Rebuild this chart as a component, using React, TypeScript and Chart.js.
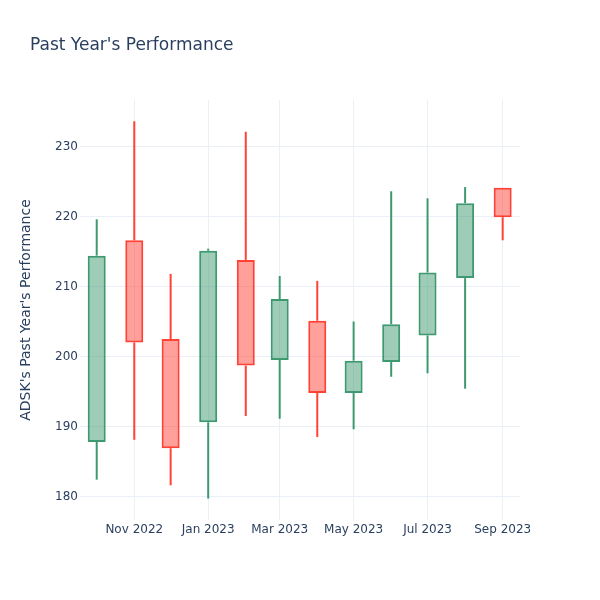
import React, { useEffect, useRef } from "react";
import { Chart, registerables } from "chart.js";

Chart.register(...registerables);

// ---- Data ----
const dates = [
  "2022-10-01", "2022-11-01", "2022-12-01", "2023-01-01", "2023-02-01", "2023-03-01",
  "2023-04-01", "2023-05-01", "2023-06-01", "2023-07-01", "2023-08-01", "2023-09-01",
];
const openValues = [187.8, 216.6, 202.5, 190.6, 213.8, 199.5, 205.1, 194.8, 199.2, 203.0, 211.2, 224.1];
const highValues = [219.6, 233.6, 211.8, 215.4, 232.1, 211.5, 210.8, 205.0, 223.6, 222.6, 224.2, 224.1];
const lowValues = [182.4, 188.1, 181.6, 179.7, 191.5, 191.1, 188.5, 189.6, 197.1, 197.6, 195.4, 216.6];
const closeValues = [214.4, 202.0, 186.9, 215.1, 198.7, 208.2, 194.8, 199.4, 204.6, 212.0, 221.9, 219.9];

const xTickDates = ["2022-11-01", "2023-01-01", "2023-03-01", "2023-05-01", "2023-07-01", "2023-09-01"];
const xTickLabels = ["Nov 2022", "Jan 2023", "Mar 2023", "May 2023", "Jul 2023", "Sep 2023"];
const yTickValues = [180, 190, 200, 210, 220, 230];

const xRange = ["2022-09-17T05:00:00Z", "2023-09-15T07:00:00Z"];
const yRange = [176.64, 236.64];

const titleText = "Past Year's Performance";
const yTitleText = "ADSK's Past Year's Performance";

// ---- Styles ----
const UP_LINE = "#3D9970";
const UP_FILL = "rgba(61,153,112,0.5)";
const DOWN_LINE = "#FF4136";
const DOWN_FILL = "rgba(255,65,54,0.5)";
const TEXT = "#2a3f5f";
const GRID = "#EBF0F8";
const FONT = "'DejaVu Sans', Verdana, sans-serif";

export default function App() {
  const canvasRef = useRef<HTMLCanvasElement | null>(null);

  useEffect(() => {
    if (!canvasRef.current) return;
    const xs = dates.map((d) => Date.parse(d + "T00:00:00Z"));
    const up = openValues.map((o, i) => closeValues[i] >= o);
    const lineColors = up.map((u) => (u ? UP_LINE : DOWN_LINE));
    const fillColors = up.map((u) => (u ? UP_FILL : DOWN_FILL));

    const body = xs.map((x, i) => ({ x, y: [openValues[i], closeValues[i]] }));
    const upperWick = xs.map((x, i) => ({
      x,
      y: [Math.max(openValues[i], closeValues[i]), highValues[i]],
    }));
    const lowerWick = xs.map((x, i) => ({
      x,
      y: [lowValues[i], Math.min(openValues[i], closeValues[i])],
    }));

    const tickMs = xTickDates.map((d) => Date.parse(d + "T00:00:00Z"));

    const chart = new Chart(canvasRef.current, {
      type: "bar",
      data: {
        datasets: [
          {
            data: body as any,
            backgroundColor: fillColors,
            borderColor: lineColors,
            borderWidth: 2,
            borderSkipped: false,
            barThickness: 18,
            grouped: false,
            inflateAmount: 0,
          } as any,
          {
            data: upperWick as any,
            backgroundColor: lineColors,
            borderWidth: 0,
            barThickness: 2,
            grouped: false,
            inflateAmount: 0,
          } as any,
          {
            data: lowerWick as any,
            backgroundColor: lineColors,
            borderWidth: 0,
            barThickness: 2,
            grouped: false,
            inflateAmount: 0,
          } as any,
        ],
      },
      options: {
        animation: false,
        responsive: false,
        devicePixelRatio: 1,
        layout: { padding: { top: 100, right: 80, left: 0, bottom: 0 } },
        plugins: {
          legend: { display: false },
          tooltip: { enabled: false },
          title: { display: false },
        },
        scales: {
          x: {
            type: "linear",
            offset: false,
            min: Date.parse(xRange[0]),
            max: Date.parse(xRange[1]),
            grid: { color: GRID, lineWidth: 1, drawTicks: false, offset: false },
            border: { display: false },
            afterBuildTicks: (scale: any) => {
              scale.ticks = tickMs.map((v) => ({ value: v }));
            },
            afterFit: (scale: any) => {
              scale.height = 80;
            },
            ticks: {
              padding: 3,
              maxRotation: 0,
              autoSkip: false,
              color: TEXT,
              font: { family: FONT, size: 12 },
              callback: (_v: any, i: number) => xTickLabels[i],
            },
          },
          y: {
            type: "linear",
            beginAtZero: false,
            min: yRange[0],
            max: yRange[1],
            grid: { color: GRID, lineWidth: 1, drawTicks: false },
            border: { display: false },
            afterBuildTicks: (scale: any) => {
              scale.ticks = yTickValues.map((v) => ({ value: v }));
            },
            afterFit: (scale: any) => {
              scale.width = 80;
            },
            title: {
              display: true,
              text: yTitleText,
              color: TEXT,
              font: { family: FONT, size: 14 },
              padding: { top: 18, bottom: 0 },
            },
            ticks: {
              padding: 2,
              color: TEXT,
              font: { family: FONT, size: 12 },
              callback: (v: any) => String(v),
            },
          },
        },
      } as any,
    });
    return () => chart.destroy();
  }, []);

  return (
    <div
      style={{
        position: "fixed",
        left: 0,
        top: 0,
        width: 600,
        height: 600,
        background: "#ffffff",
      }}
    >
      <canvas ref={canvasRef} width={600} height={600} style={{ display: "block" }} />
      <div
        style={{
          position: "absolute",
          left: 30,
          top: 34,
          fontFamily: FONT,
          fontSize: 17,
          lineHeight: "20px",
          color: TEXT,
          whiteSpace: "nowrap",
        }}
      >
        {titleText}
      </div>
    </div>
  );
}
